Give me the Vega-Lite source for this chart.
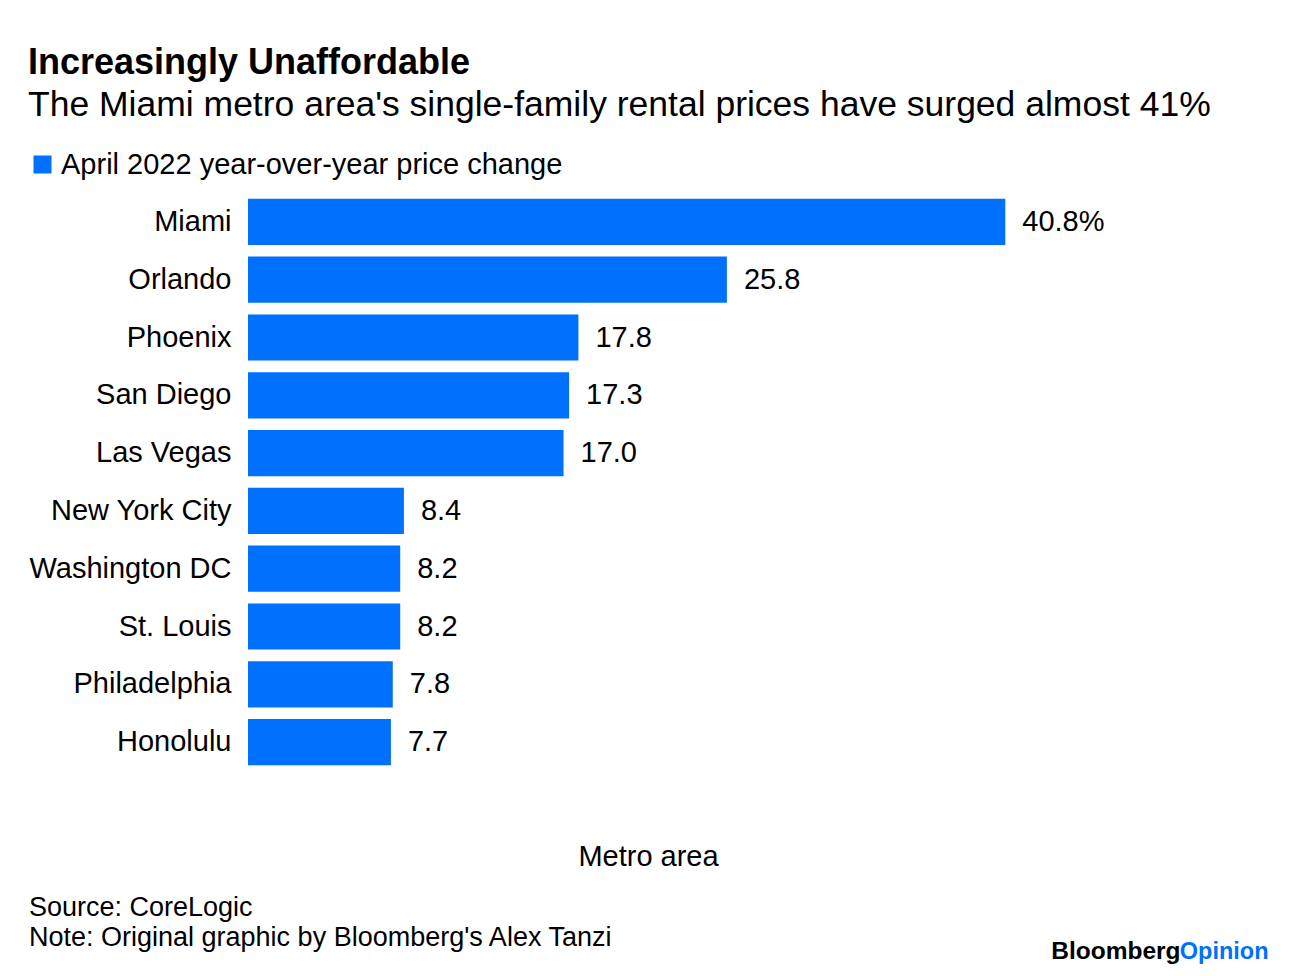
{
  "$schema": "https://vega.github.io/schema/vega-lite/v6.json",
  "background": "white",
  "padding": {"left": 28, "top": 44, "right": 10, "bottom": 5},
  "config": {"font": "Liberation Sans", "view": {"stroke": null}, "concat": {"spacing": 0}},
  "title": {
    "text": "Increasingly Unaffordable",
    "subtitle": "The Miami metro area's single-family rental prices have surged almost 41%",
    "anchor": "start", "frame": "bounds",
    "fontSize": 36, "fontWeight": "bold", "color": "black",
    "subtitleFontSize": 35.5, "subtitleColor": "black", "subtitlePadding": 6,
    "offset": 26
  },
  "vconcat": [
    {
      "title": {"text": "Opinion", "orient": "bottom", "anchor": "end", "color": "#0070FF", "fontSize": 23.5, "fontWeight": "bold", "dx": 88, "offset": -23.6},
      "vconcat": [
        {
          "title": {"text": "Bloomberg", "orient": "bottom", "anchor": "end", "color": "black", "fontSize": 24.5, "fontWeight": "bold", "dx": 76, "offset": -10.5},
          "vconcat": [
            {
              "width": 800,
              "height": 578,
              "title": {
                "text": ["Source: CoreLogic", "Note: Original graphic by Bloomberg's Alex Tanzi"],
                "orient": "bottom", "anchor": "start", "frame": "bounds",
                "fontSize": 27, "fontWeight": "normal", "lineHeight": 30, "offset": 23.5, "color": "black"
              },
              "data": {"values": [
                {"metro": "Miami", "change": 40.8, "label": "40.8%"},
                {"metro": "Orlando", "change": 25.8, "label": "25.8"},
                {"metro": "Phoenix", "change": 17.8, "label": "17.8"},
                {"metro": "San Diego", "change": 17.3, "label": "17.3"},
                {"metro": "Las Vegas", "change": 17.0, "label": "17.0"},
                {"metro": "New York City", "change": 8.4, "label": "8.4"},
                {"metro": "Washington DC", "change": 8.2, "label": "8.2"},
                {"metro": "St. Louis", "change": 8.2, "label": "8.2"},
                {"metro": "Philadelphia", "change": 7.8, "label": "7.8"},
                {"metro": "Honolulu", "change": 7.7, "label": "7.7"}
              ]},
              "encoding": {
                "y": {"field": "metro", "type": "nominal", "sort": null,
                  "scale": {"paddingInner": 0.2, "paddingOuter": 0.1},
                  "axis": {"title": null, "ticks": false, "domain": false, "labelFontSize": 29, "labelPadding": 17, "labelColor": "black", "labelLimit": 400}},
                "x": {"field": "change", "type": "quantitative",
                  "scale": {"domain": [0, 43.1], "nice": false},
                  "axis": {"title": "Metro area", "labels": false, "ticks": false, "domain": false, "grid": false, "titleFontSize": 29, "titleFontWeight": "normal", "titlePadding": 71, "titleColor": "black"}}
              },
              "layer": [
                {"mark": {"type": "bar"},
                 "encoding": {"color": {"datum": "April 2022 year-over-year price change", "type": "nominal",
                   "scale": {"range": ["#0070FF"]},
                   "legend": {"title": null, "orient": "none", "legendX": -220, "legendY": -43, "symbolType": "square", "symbolSize": 324, "symbolStrokeWidth": 0, "labelFontSize": 29, "labelColor": "black", "labelOffset": 4, "labelLimit": 700}}}},
                {"mark": {"type": "text", "align": "left", "baseline": "middle", "dx": 17, "fontSize": 29, "color": "black"},
                 "encoding": {"text": {"field": "label"}}}
              ]
            }
          ]
        }
      ]
    }
  ]
}
